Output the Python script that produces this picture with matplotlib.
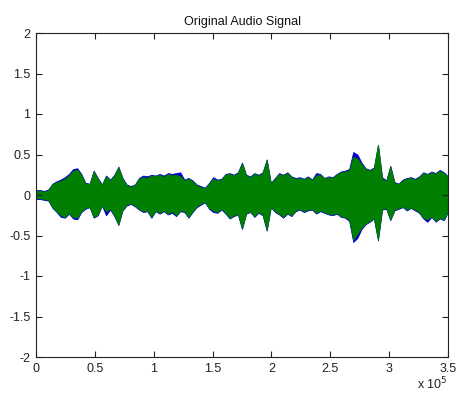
import matplotlib
matplotlib.use("Agg")
import matplotlib.pyplot as plt
import numpy as np

# Envelope of the stereo signal, every 3500 samples
samples = [i * 3500 for i in range(101)]

green_upper = [0.05, 0.05, 0.04, 0.06, 0.13, 0.16, 0.17, 0.20, 0.24, 0.30,
               0.31, 0.25, 0.14, 0.13, 0.29, 0.20, 0.12, 0.23, 0.18, 0.24,
               0.34, 0.20, 0.12, 0.10, 0.12, 0.20, 0.22, 0.21, 0.24, 0.23,
               0.25, 0.22, 0.26, 0.24, 0.25, 0.23, 0.18, 0.20, 0.17, 0.12,
               0.10, 0.08, 0.14, 0.20, 0.18, 0.19, 0.25, 0.26, 0.24, 0.27,
               0.39, 0.24, 0.22, 0.26, 0.24, 0.27, 0.43, 0.14, 0.20, 0.26,
               0.24, 0.27, 0.22, 0.20, 0.21, 0.19, 0.22, 0.18, 0.24, 0.25,
               0.20, 0.22, 0.21, 0.25, 0.28, 0.29, 0.30, 0.47, 0.45, 0.38,
               0.32, 0.30, 0.33, 0.62, 0.20, 0.17, 0.35, 0.15, 0.13, 0.18,
               0.20, 0.21, 0.19, 0.22, 0.27, 0.25, 0.28, 0.26, 0.30, 0.27,
               0.22]
green_lower = [-0.04, -0.04, -0.05, -0.06, -0.15, -0.20, -0.25, -0.27, -0.22, -0.27,
               -0.28, -0.20, -0.16, -0.14, -0.27, -0.24, -0.12, -0.20, -0.17, -0.25,
               -0.36, -0.18, -0.12, -0.10, -0.13, -0.17, -0.20, -0.19, -0.27, -0.19,
               -0.22, -0.19, -0.23, -0.20, -0.25, -0.19, -0.20, -0.27, -0.20, -0.14,
               -0.11, -0.08, -0.16, -0.19, -0.21, -0.17, -0.22, -0.28, -0.25, -0.23,
               -0.41, -0.22, -0.20, -0.26, -0.21, -0.24, -0.43, -0.14, -0.20, -0.23,
               -0.27, -0.22, -0.25, -0.19, -0.17, -0.20, -0.18, -0.17, -0.22, -0.19,
               -0.21, -0.23, -0.24, -0.22, -0.26, -0.27, -0.30, -0.55, -0.48, -0.40,
               -0.35, -0.32, -0.28, -0.55, -0.17, -0.16, -0.30, -0.18, -0.16, -0.14,
               -0.18, -0.15, -0.18, -0.21, -0.28, -0.30, -0.26, -0.32, -0.28, -0.30,
               -0.20]
blue_upper = [0.06, 0.06, 0.05, 0.07, 0.14, 0.17, 0.19, 0.22, 0.26, 0.32,
              0.33, 0.26, 0.15, 0.14, 0.30, 0.21, 0.13, 0.24, 0.19, 0.25,
              0.35, 0.21, 0.13, 0.11, 0.13, 0.21, 0.24, 0.23, 0.25, 0.24,
              0.26, 0.24, 0.27, 0.26, 0.27, 0.28, 0.19, 0.21, 0.18, 0.13,
              0.11, 0.09, 0.15, 0.22, 0.19, 0.20, 0.26, 0.27, 0.25, 0.28,
              0.40, 0.25, 0.23, 0.27, 0.25, 0.28, 0.44, 0.15, 0.21, 0.27,
              0.25, 0.28, 0.23, 0.21, 0.22, 0.20, 0.23, 0.19, 0.27, 0.26,
              0.21, 0.23, 0.22, 0.26, 0.29, 0.30, 0.32, 0.53, 0.50, 0.40,
              0.33, 0.31, 0.34, 0.62, 0.22, 0.18, 0.36, 0.16, 0.14, 0.19,
              0.21, 0.22, 0.20, 0.23, 0.28, 0.26, 0.29, 0.27, 0.31, 0.28,
              0.23]
blue_lower = [-0.05, -0.05, -0.06, -0.07, -0.16, -0.21, -0.27, -0.28, -0.23, -0.29,
              -0.30, -0.21, -0.17, -0.15, -0.28, -0.25, -0.13, -0.25, -0.18, -0.26,
              -0.37, -0.19, -0.13, -0.11, -0.14, -0.18, -0.21, -0.20, -0.28, -0.20,
              -0.23, -0.20, -0.24, -0.22, -0.26, -0.20, -0.21, -0.28, -0.21, -0.15,
              -0.12, -0.09, -0.17, -0.21, -0.22, -0.18, -0.23, -0.29, -0.26, -0.24,
              -0.42, -0.23, -0.21, -0.27, -0.22, -0.25, -0.44, -0.15, -0.21, -0.24,
              -0.28, -0.23, -0.26, -0.20, -0.18, -0.21, -0.19, -0.18, -0.23, -0.20,
              -0.22, -0.24, -0.25, -0.23, -0.27, -0.28, -0.32, -0.58, -0.53, -0.42,
              -0.36, -0.33, -0.29, -0.56, -0.18, -0.17, -0.31, -0.19, -0.17, -0.15,
              -0.19, -0.16, -0.19, -0.22, -0.29, -0.33, -0.27, -0.33, -0.29, -0.31,
              -0.21]

xticks = [0, 0.5e5, 1e5, 1.5e5, 2e5, 2.5e5, 3e5, 3.5e5]
xticklabels = ["0", "0.5", "1", "1.5", "2", "2.5", "3", "3.5"]
yticks = [-2, -1.5, -1, -0.5, 0, 0.5, 1, 1.5, 2]
yticklabels = ["-2", "-1.5", "-1", "-0.5", "0", "0.5", "1", "1.5", "2"]

plt.rcParams['font.family'] = ['Liberation Sans', 'DejaVu Sans']

fig = plt.figure(figsize=(4.57, 3.95), dpi=100)
ax = fig.add_axes([36/457, 1-357/395, 412/457, 324/395])

ax.fill_between(samples, blue_lower, blue_upper, color='#0000c8',
                lw=0.6, edgecolor='#0000c8')
ax.fill_between(samples, green_lower, green_upper, color='#007f00',
                lw=0.6, edgecolor='#007f00')

ax.set_xlim(0, 3.5e5)
ax.set_ylim(-2, 2)
ax.set_xticks(xticks)
ax.set_xticklabels(xticklabels)
ax.set_yticks(yticks)
ax.set_yticklabels(yticklabels)
ax.tick_params(direction='in', length=4, width=0.8, top=True, right=True,
               labelsize=9, colors='#222222', pad=4)
for s in ax.spines.values():
    s.set_linewidth(0.8)
    s.set_color('#222222')

ax.set_title("Original Audio Signal", fontsize=9, pad=6, color='#111111')
ax.text(1.0, -0.1, r"x 10$^{5}$", transform=ax.transAxes, ha='right',
        va='baseline', fontsize=9, color='#222222')

fig.savefig("out.png", dpi=100)
